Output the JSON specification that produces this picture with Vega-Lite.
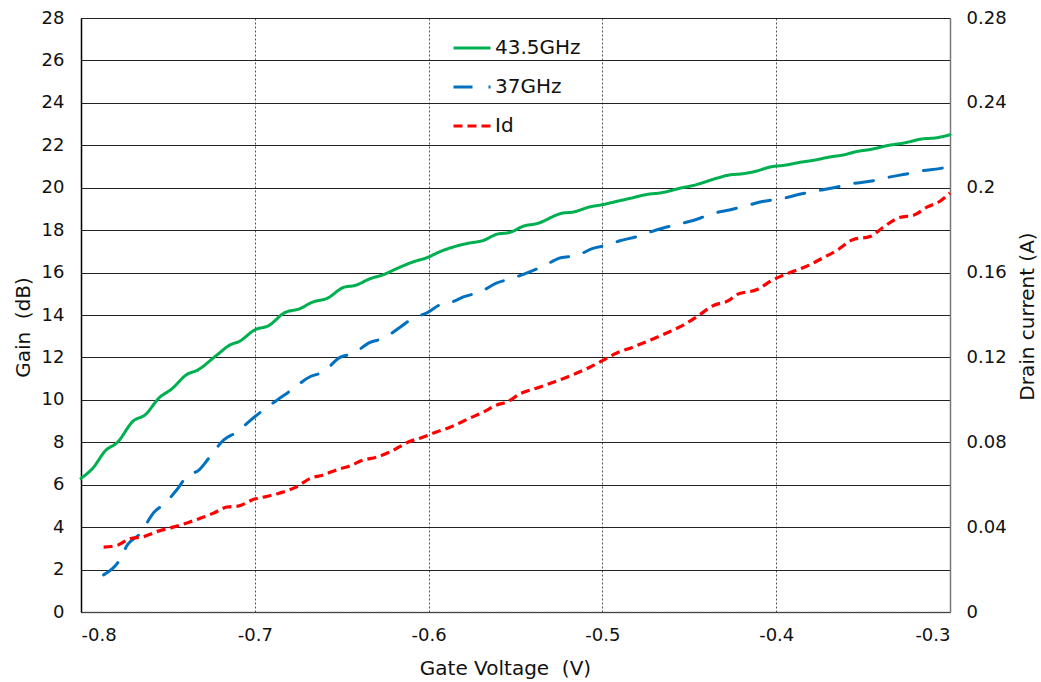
{
  "$schema": "https://vega.github.io/schema/vega-lite/v6.json",
  "width": 869,
  "height": 594,
  "autosize": {"type": "none"},
  "padding": {"left": 81, "top": 18, "right": 91, "bottom": 70},
  "background": "white",
  "config": {
    "font": "DejaVu Sans",
    "view": {"stroke": null},
    "axis": {
      "labelFont": "DejaVu Sans",
      "titleFont": "DejaVu Sans",
      "labelFontSize": 18,
      "titleFontSize": 20,
      "labelColor": "#111",
      "titleColor": "#111",
      "titleFontWeight": "normal",
      "ticks": false
    },
    "legend": {
      "labelFont": "DejaVu Sans",
      "labelFontSize": 20,
      "labelColor": "#111",
      "symbolStrokeWidth": 3,
      "symbolSize": 1369,
      "labelOffset": 3,
      "rowPadding": 9
    }
  },
  "datasets": {
    "gain": [
      {"v": -0.800, "s": "43.5GHz", "g": 6.3},
      {"v": -0.793, "s": "43.5GHz", "g": 6.8},
      {"v": -0.786, "s": "43.5GHz", "g": 7.6},
      {"v": -0.779, "s": "43.5GHz", "g": 8.0},
      {"v": -0.770, "s": "43.5GHz", "g": 9.0},
      {"v": -0.763, "s": "43.5GHz", "g": 9.3},
      {"v": -0.755, "s": "43.5GHz", "g": 10.1},
      {"v": -0.748, "s": "43.5GHz", "g": 10.5},
      {"v": -0.739, "s": "43.5GHz", "g": 11.2},
      {"v": -0.733, "s": "43.5GHz", "g": 11.4},
      {"v": -0.722, "s": "43.5GHz", "g": 12.1},
      {"v": -0.714, "s": "43.5GHz", "g": 12.6},
      {"v": -0.709, "s": "43.5GHz", "g": 12.75},
      {"v": -0.700, "s": "43.5GHz", "g": 13.3},
      {"v": -0.692, "s": "43.5GHz", "g": 13.5},
      {"v": -0.683, "s": "43.5GHz", "g": 14.1},
      {"v": -0.674, "s": "43.5GHz", "g": 14.3},
      {"v": -0.667, "s": "43.5GHz", "g": 14.6},
      {"v": -0.658, "s": "43.5GHz", "g": 14.8},
      {"v": -0.649, "s": "43.5GHz", "g": 15.3},
      {"v": -0.642, "s": "43.5GHz", "g": 15.4},
      {"v": -0.634, "s": "43.5GHz", "g": 15.7},
      {"v": -0.626, "s": "43.5GHz", "g": 15.9},
      {"v": -0.618, "s": "43.5GHz", "g": 16.2},
      {"v": -0.609, "s": "43.5GHz", "g": 16.5},
      {"v": -0.601, "s": "43.5GHz", "g": 16.7},
      {"v": -0.593, "s": "43.5GHz", "g": 17.0},
      {"v": -0.586, "s": "43.5GHz", "g": 17.2},
      {"v": -0.576, "s": "43.5GHz", "g": 17.4},
      {"v": -0.569, "s": "43.5GHz", "g": 17.5},
      {"v": -0.561, "s": "43.5GHz", "g": 17.8},
      {"v": -0.553, "s": "43.5GHz", "g": 17.9},
      {"v": -0.545, "s": "43.5GHz", "g": 18.2},
      {"v": -0.538, "s": "43.5GHz", "g": 18.3},
      {"v": -0.523, "s": "43.5GHz", "g": 18.8},
      {"v": -0.517, "s": "43.5GHz", "g": 18.85},
      {"v": -0.507, "s": "43.5GHz", "g": 19.1},
      {"v": -0.500, "s": "43.5GHz", "g": 19.2},
      {"v": -0.492, "s": "43.5GHz", "g": 19.35},
      {"v": -0.484, "s": "43.5GHz", "g": 19.5},
      {"v": -0.473, "s": "43.5GHz", "g": 19.7},
      {"v": -0.467, "s": "43.5GHz", "g": 19.75},
      {"v": -0.454, "s": "43.5GHz", "g": 20.0},
      {"v": -0.448, "s": "43.5GHz", "g": 20.1},
      {"v": -0.434, "s": "43.5GHz", "g": 20.45},
      {"v": -0.427, "s": "43.5GHz", "g": 20.6},
      {"v": -0.420, "s": "43.5GHz", "g": 20.65},
      {"v": -0.413, "s": "43.5GHz", "g": 20.75},
      {"v": -0.402, "s": "43.5GHz", "g": 21.0},
      {"v": -0.396, "s": "43.5GHz", "g": 21.05},
      {"v": -0.386, "s": "43.5GHz", "g": 21.2},
      {"v": -0.378, "s": "43.5GHz", "g": 21.3},
      {"v": -0.369, "s": "43.5GHz", "g": 21.45},
      {"v": -0.361, "s": "43.5GHz", "g": 21.55},
      {"v": -0.354, "s": "43.5GHz", "g": 21.7},
      {"v": -0.346, "s": "43.5GHz", "g": 21.8},
      {"v": -0.335, "s": "43.5GHz", "g": 22.0},
      {"v": -0.327, "s": "43.5GHz", "g": 22.1},
      {"v": -0.316, "s": "43.5GHz", "g": 22.3},
      {"v": -0.308, "s": "43.5GHz", "g": 22.35},
      {"v": -0.300, "s": "43.5GHz", "g": 22.5},
      {"v": -0.787, "s": "37GHz", "g": 1.75},
      {"v": -0.779, "s": "37GHz", "g": 2.3},
      {"v": -0.773, "s": "37GHz", "g": 3.2},
      {"v": -0.766, "s": "37GHz", "g": 3.7},
      {"v": -0.758, "s": "37GHz", "g": 4.7},
      {"v": -0.752, "s": "37GHz", "g": 5.1},
      {"v": -0.745, "s": "37GHz", "g": 5.75},
      {"v": -0.739, "s": "37GHz", "g": 6.4},
      {"v": -0.732, "s": "37GHz", "g": 6.7},
      {"v": -0.726, "s": "37GHz", "g": 7.3},
      {"v": -0.718, "s": "37GHz", "g": 8.1},
      {"v": -0.710, "s": "37GHz", "g": 8.5},
      {"v": -0.703, "s": "37GHz", "g": 9.0},
      {"v": -0.697, "s": "37GHz", "g": 9.4},
      {"v": -0.687, "s": "37GHz", "g": 10.0},
      {"v": -0.680, "s": "37GHz", "g": 10.4},
      {"v": -0.668, "s": "37GHz", "g": 11.1},
      {"v": -0.661, "s": "37GHz", "g": 11.3},
      {"v": -0.651, "s": "37GHz", "g": 12.0},
      {"v": -0.643, "s": "37GHz", "g": 12.2},
      {"v": -0.634, "s": "37GHz", "g": 12.7},
      {"v": -0.626, "s": "37GHz", "g": 12.9},
      {"v": -0.616, "s": "37GHz", "g": 13.45},
      {"v": -0.609, "s": "37GHz", "g": 13.85},
      {"v": -0.601, "s": "37GHz", "g": 14.1},
      {"v": -0.593, "s": "37GHz", "g": 14.5},
      {"v": -0.587, "s": "37GHz", "g": 14.6},
      {"v": -0.580, "s": "37GHz", "g": 14.85},
      {"v": -0.570, "s": "37GHz", "g": 15.1},
      {"v": -0.561, "s": "37GHz", "g": 15.5},
      {"v": -0.553, "s": "37GHz", "g": 15.7},
      {"v": -0.543, "s": "37GHz", "g": 16.0},
      {"v": -0.534, "s": "37GHz", "g": 16.3},
      {"v": -0.524, "s": "37GHz", "g": 16.7},
      {"v": -0.515, "s": "37GHz", "g": 16.8},
      {"v": -0.505, "s": "37GHz", "g": 17.15},
      {"v": -0.497, "s": "37GHz", "g": 17.3},
      {"v": -0.490, "s": "37GHz", "g": 17.5},
      {"v": -0.480, "s": "37GHz", "g": 17.7},
      {"v": -0.473, "s": "37GHz", "g": 17.9},
      {"v": -0.465, "s": "37GHz", "g": 18.1},
      {"v": -0.455, "s": "37GHz", "g": 18.3},
      {"v": -0.446, "s": "37GHz", "g": 18.5},
      {"v": -0.436, "s": "37GHz", "g": 18.8},
      {"v": -0.427, "s": "37GHz", "g": 18.95},
      {"v": -0.415, "s": "37GHz", "g": 19.2},
      {"v": -0.408, "s": "37GHz", "g": 19.35},
      {"v": -0.396, "s": "37GHz", "g": 19.5},
      {"v": -0.386, "s": "37GHz", "g": 19.7},
      {"v": -0.377, "s": "37GHz", "g": 19.85},
      {"v": -0.367, "s": "37GHz", "g": 20.0},
      {"v": -0.356, "s": "37GHz", "g": 20.2},
      {"v": -0.346, "s": "37GHz", "g": 20.3},
      {"v": -0.335, "s": "37GHz", "g": 20.5},
      {"v": -0.325, "s": "37GHz", "g": 20.65},
      {"v": -0.316, "s": "37GHz", "g": 20.8},
      {"v": -0.306, "s": "37GHz", "g": 20.9},
      {"v": -0.300, "s": "37GHz", "g": 21.0}
    ],
    "drain": [
      {"v": -0.787, "s": "Id", "a": 0.0306},
      {"v": -0.779, "s": "Id", "a": 0.0315},
      {"v": -0.772, "s": "Id", "a": 0.0345},
      {"v": -0.764, "s": "Id", "a": 0.0355},
      {"v": -0.756, "s": "Id", "a": 0.038},
      {"v": -0.747, "s": "Id", "a": 0.040},
      {"v": -0.739, "s": "Id", "a": 0.042},
      {"v": -0.732, "s": "Id", "a": 0.044},
      {"v": -0.724, "s": "Id", "a": 0.0465},
      {"v": -0.716, "s": "Id", "a": 0.0495},
      {"v": -0.709, "s": "Id", "a": 0.050},
      {"v": -0.701, "s": "Id", "a": 0.053},
      {"v": -0.693, "s": "Id", "a": 0.0545},
      {"v": -0.686, "s": "Id", "a": 0.056},
      {"v": -0.676, "s": "Id", "a": 0.059},
      {"v": -0.668, "s": "Id", "a": 0.063},
      {"v": -0.661, "s": "Id", "a": 0.0645},
      {"v": -0.653, "s": "Id", "a": 0.067},
      {"v": -0.645, "s": "Id", "a": 0.069},
      {"v": -0.638, "s": "Id", "a": 0.0715},
      {"v": -0.630, "s": "Id", "a": 0.073},
      {"v": -0.622, "s": "Id", "a": 0.0755},
      {"v": -0.612, "s": "Id", "a": 0.080},
      {"v": -0.603, "s": "Id", "a": 0.0825},
      {"v": -0.595, "s": "Id", "a": 0.085},
      {"v": -0.588, "s": "Id", "a": 0.087},
      {"v": -0.576, "s": "Id", "a": 0.0915},
      {"v": -0.569, "s": "Id", "a": 0.094},
      {"v": -0.561, "s": "Id", "a": 0.0975},
      {"v": -0.555, "s": "Id", "a": 0.099},
      {"v": -0.547, "s": "Id", "a": 0.103},
      {"v": -0.538, "s": "Id", "a": 0.1055},
      {"v": -0.526, "s": "Id", "a": 0.109},
      {"v": -0.515, "s": "Id", "a": 0.1125},
      {"v": -0.507, "s": "Id", "a": 0.1155},
      {"v": -0.500, "s": "Id", "a": 0.1185},
      {"v": -0.492, "s": "Id", "a": 0.122},
      {"v": -0.482, "s": "Id", "a": 0.125},
      {"v": -0.473, "s": "Id", "a": 0.128},
      {"v": -0.463, "s": "Id", "a": 0.1315},
      {"v": -0.454, "s": "Id", "a": 0.135},
      {"v": -0.446, "s": "Id", "a": 0.139},
      {"v": -0.436, "s": "Id", "a": 0.1445},
      {"v": -0.427, "s": "Id", "a": 0.147},
      {"v": -0.423, "s": "Id", "a": 0.1495},
      {"v": -0.411, "s": "Id", "a": 0.152},
      {"v": -0.402, "s": "Id", "a": 0.1565},
      {"v": -0.392, "s": "Id", "a": 0.160},
      {"v": -0.381, "s": "Id", "a": 0.1635},
      {"v": -0.373, "s": "Id", "a": 0.167},
      {"v": -0.365, "s": "Id", "a": 0.1705},
      {"v": -0.356, "s": "Id", "a": 0.1755},
      {"v": -0.346, "s": "Id", "a": 0.177},
      {"v": -0.339, "s": "Id", "a": 0.181},
      {"v": -0.329, "s": "Id", "a": 0.186},
      {"v": -0.321, "s": "Id", "a": 0.187},
      {"v": -0.313, "s": "Id", "a": 0.191},
      {"v": -0.306, "s": "Id", "a": 0.1935},
      {"v": -0.300, "s": "Id", "a": 0.1975}
    ]
  },
  "layer": [
    {
      "data": {"name": "gain"},
      "mark": {"type": "line", "strokeWidth": 3, "strokeCap": "round", "interpolate": "monotone"},
      "encoding": {
        "x": {
          "field": "v", "type": "quantitative",
          "scale": {"domain": [-0.8, -0.3], "nice": false, "zero": false},
          "axis": {
            "title": "Gate Voltage\u00a0 (V)",
            "values": [-0.8, -0.7, -0.6, -0.5, -0.4, -0.3],
            "labelExpr": "'' + datum.value",
            "labelPadding": 14,
            "titleX": 424,
            "titleY": 56,
            "titleBaseline": "middle",
            "grid": true,
            "gridColor": "#555",
            "gridDash": [2, 2],
            "gridWidth": 1,
            "domainColor": "#555",
            "domainDash": [2, 1],
            "domainWidth": 1.5
          }
        },
        "y": {
          "field": "g", "type": "quantitative",
          "scale": {"domain": [0, 28], "nice": false},
          "axis": {
            "title": "Gain\u00a0 (dB)",
            "values": [0, 2, 4, 6, 8, 10, 12, 14, 16, 18, 20, 22, 24, 26, 28],
            "labelPadding": 17,
            "titleX": -58,
            "titleY": 309,
            "titleBaseline": "middle",
            "titleAlign": "center",
            "grid": true,
            "gridColor": "#222",
            "gridWidth": 1,
            "domainColor": "#000",
            "domainWidth": 1.5
          }
        },
        "color": {
          "field": "s", "type": "nominal",
          "scale": {"domain": ["43.5GHz", "37GHz", "Id"], "range": ["#00B050", "#0070C0", "#FF0000"]},
          "legend": {"title": null, "orient": "none", "legendX": 371, "legendY": 10}
        },
        "strokeDash": {
          "field": "s", "type": "nominal",
          "scale": {"domain": ["43.5GHz", "37GHz", "Id"], "range": [[1, 0], [19, 16], [9, 5]]},
          "legend": {"title": null, "orient": "none", "legendX": 371, "legendY": 10}
        }
      }
    },
    {
      "data": {"name": "drain"},
      "mark": {"type": "line", "strokeWidth": 3.2, "strokeCap": "butt", "interpolate": "monotone"},
      "encoding": {
        "x": {"field": "v", "type": "quantitative"},
        "y": {
          "field": "a", "type": "quantitative",
          "scale": {"domain": [0, 0.28], "nice": false},
          "axis": {
            "orient": "right",
            "title": "Drain current (A)",
            "titleAngle": -90,
            "titleX": 77,
            "titleY": 298,
            "titleBaseline": "middle",
            "titleAlign": "center",
            "values": [0, 0.04, 0.08, 0.12, 0.16, 0.2, 0.24, 0.28],
            "format": "~f",
            "labelPadding": 16,
            "grid": false,
            "domainColor": "#777",
            "domainWidth": 1.5
          }
        },
        "color": {
          "field": "s", "type": "nominal",
          "scale": {"domain": ["43.5GHz", "37GHz", "Id"], "range": ["#00B050", "#0070C0", "#FF0000"]},
          "legend": {"title": null, "orient": "none", "legendX": 371, "legendY": 10}
        },
        "strokeDash": {
          "field": "s", "type": "nominal",
          "scale": {"domain": ["43.5GHz", "37GHz", "Id"], "range": [[1, 0], [19, 16], [9, 5]]},
          "legend": {"title": null, "orient": "none", "legendX": 371, "legendY": 10}
        }
      }
    }
  ],
  "resolve": {"scale": {"y": "independent"}}
}
